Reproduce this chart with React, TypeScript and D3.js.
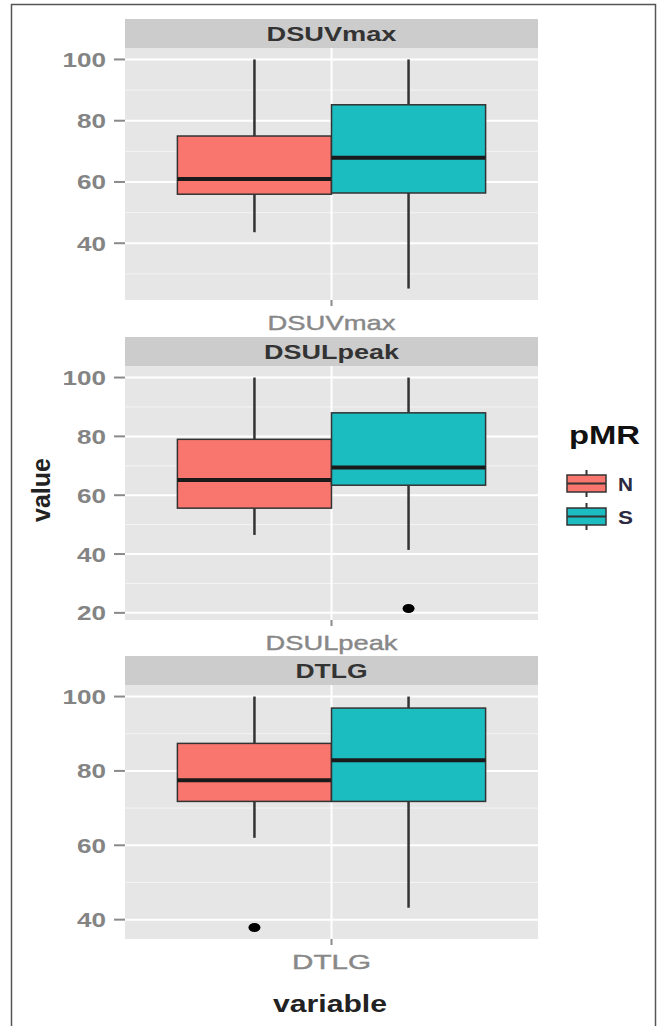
import * as d3 from 'd3';
import React from 'react';

// facets, groups and box stats
const variables = ['DSUVmax', 'DSULpeak', 'DTLG'];
const groups = ['N', 'S'];
// [lower whisker, Q1, median, Q3, upper whisker] per variable
const statsN = [
  [43.6, 56, 61, 75, 100],
  [46.5, 55.6, 65.2, 79, 100],
  [62, 71.8, 77.5, 87.4, 100],
];
const statsS = [
  [25.2, 56.4, 67.9, 85.2, 100],
  [41.4, 63.4, 69.4, 88, 100],
  [43.2, 71.8, 82.9, 96.9, 100],
];
const outliersN = [[], [], [37.9]];
const outliersS = [[], [21.5], []];
const yTicks = [
  [40, 60, 80, 100],
  [20, 40, 60, 80, 100],
  [40, 60, 80, 100],
];

const COLORS = { N: '#F8766D', S: '#1CBDC1' };
const FONT = '"Liberation Sans", Arial, sans-serif';

// layout
const W = 660;
const H = 1026;
const PX0 = 125;
const PX1 = 538;
const stripTop = [19, 337, 656];
const STRIP_H = 29;
const plotBottom = [300, 620, 939];
const stripW = { DSUVmax: 130, DSULpeak: 135, DTLG: 72 };
const axisW = { DSUVmax: 128, DSULpeak: 132, DTLG: 79 };

const Panel = ({ i }) => {
  const v = variables[i];
  const top = stripTop[i] + STRIP_H;
  const bottom = plotBottom[i];
  const all = [...statsN[i], ...statsS[i], ...outliersN[i], ...outliersS[i]];
  const [lo, hi] = d3.extent(all);
  const pad = (hi - lo) * 0.05;
  const y = d3.scaleLinear().domain([lo - pad, hi + pad]).range([bottom, top]);
  const x = d3.scaleBand().domain(groups).range([PX0, PX1]).paddingInner(0).paddingOuter(0.34);
  const xc = (PX0 + PX1) / 2;
  const minor = yTicks[i].map(t => t - 10).filter(t => t > y.domain()[0] && t < y.domain()[1]);
  const rows = [
    { g: 'N', s: statsN[i], out: outliersN[i] },
    { g: 'S', s: statsS[i], out: outliersS[i] },
  ];
  return (
    <g>
      <rect x={PX0} y={stripTop[i]} width={PX1 - PX0} height={STRIP_H} fill="#cccccc" />
      <text x={xc} y={stripTop[i] + STRIP_H / 2 + 7.5} textAnchor="middle" fontFamily={FONT}
        fontWeight="bold" fontSize={21} fill="#333" textLength={stripW[v]} lengthAdjust="spacingAndGlyphs">{v}</text>
      <rect x={PX0} y={top} width={PX1 - PX0} height={bottom - top} fill="#e6e6e6" />
      {minor.map(t => (
        <line key={'m' + t} x1={PX0} x2={PX1} y1={y(t)} y2={y(t)} stroke="#f4f4f4" strokeWidth={1} />
      ))}
      {yTicks[i].map(t => (
        <line key={'g' + t} x1={PX0} x2={PX1} y1={y(t)} y2={y(t)} stroke="#ffffff" strokeWidth={2} />
      ))}
      <line x1={xc} x2={xc} y1={top} y2={bottom} stroke="#ffffff" strokeWidth={2} />
      {yTicks[i].map(t => (
        <g key={'t' + t}>
          <line x1={114} x2={PX0} y1={y(t)} y2={y(t)} stroke="#8a8a8a" strokeWidth={2} />
          <text x={106} y={y(t) + 7.5} textAnchor="end" fontFamily={FONT} fontWeight="bold" fontSize={21}
            fill="#848484" textLength={String(t).length * 14.5} lengthAdjust="spacingAndGlyphs">{t}</text>
        </g>
      ))}
      {rows.map(({ g, s, out }) => {
        const bx = x(g);
        const bw = x.bandwidth();
        const cx = bx + bw / 2;
        return (
          <g key={g}>
            <line x1={cx} x2={cx} y1={y(s[0])} y2={y(s[1])} stroke="#333" strokeWidth={2.5} />
            <line x1={cx} x2={cx} y1={y(s[3])} y2={y(s[4])} stroke="#333" strokeWidth={2.5} />
            <rect x={bx} y={y(s[3])} width={bw} height={y(s[1]) - y(s[3])} fill={COLORS[g]}
              stroke="#333" strokeWidth={1.5} />
            <line x1={bx} x2={bx + bw} y1={y(s[2])} y2={y(s[2])} stroke="#1a1a1a" strokeWidth={4} />
            {out.map((o, k) => (
              <ellipse key={k} cx={cx} cy={y(o)} rx={6} ry={4.5} fill="#000" />
            ))}
          </g>
        );
      })}
      <line x1={xc} x2={xc} y1={bottom} y2={bottom + 6} stroke="#8a8a8a" strokeWidth={2} />
      <text x={xc} y={bottom + 29.5} textAnchor="middle" fontFamily={FONT} fontSize={21} fill="#888"
        stroke="#888" strokeWidth={0.4} textLength={axisW[v]} lengthAdjust="spacingAndGlyphs">{v}</text>
    </g>
  );
};

const LegendKey = ({ g, cy }) => {
  const x0 = 567;
  const x1 = 606;
  const cx = (x0 + x1) / 2;
  return (
    <g>
      <line x1={cx} x2={cx} y1={cy - 13.5} y2={cy + 13.5} stroke="#333" strokeWidth={2} />
      <rect x={x0} y={cy - 8.5} width={x1 - x0} height={17} fill={COLORS[g]} stroke="#333" strokeWidth={1.5} />
      <line x1={x0} x2={x1} y1={cy} y2={cy} stroke="#333" strokeWidth={2} />
      <text x={618} y={cy + 7} fontFamily={FONT} fontWeight="bold" fontSize={19} fill="#2a2a40"
        textLength={15} lengthAdjust="spacingAndGlyphs">{g}</text>
    </g>
  );
};

export default function App() {
  return (
    <svg width={W} height={H} style={{ position: 'absolute', left: 0, top: 0, background: '#fff' }}>
      <rect x={0} y={0} width={W} height={H} fill="#fff" />
      {variables.map((v, i) => <Panel key={v} i={i} />)}
      <text transform="translate(50,490) rotate(-90)" textAnchor="middle" fontFamily={FONT} fontWeight="bold"
        fontSize={25} fill="#222" textLength={64} lengthAdjust="spacingAndGlyphs">value</text>
      <text x={330} y={1012} textAnchor="middle" fontFamily={FONT} fontWeight="bold" fontSize={24}
        fill="#222" textLength={114} lengthAdjust="spacingAndGlyphs">variable</text>
      <text x={569} y={444} fontFamily={FONT} fontWeight="bold" fontSize={26} fill="#111"
        textLength={71} lengthAdjust="spacingAndGlyphs">pMR</text>
      {groups.map((g, k) => <LegendKey key={g} g={g} cy={[483.5, 516.5][k]} />)}
      <rect x={11.5} y={4.5} width={644} height={1040} fill="none" stroke="#555" strokeWidth={1.5} />
    </svg>
  );
}
